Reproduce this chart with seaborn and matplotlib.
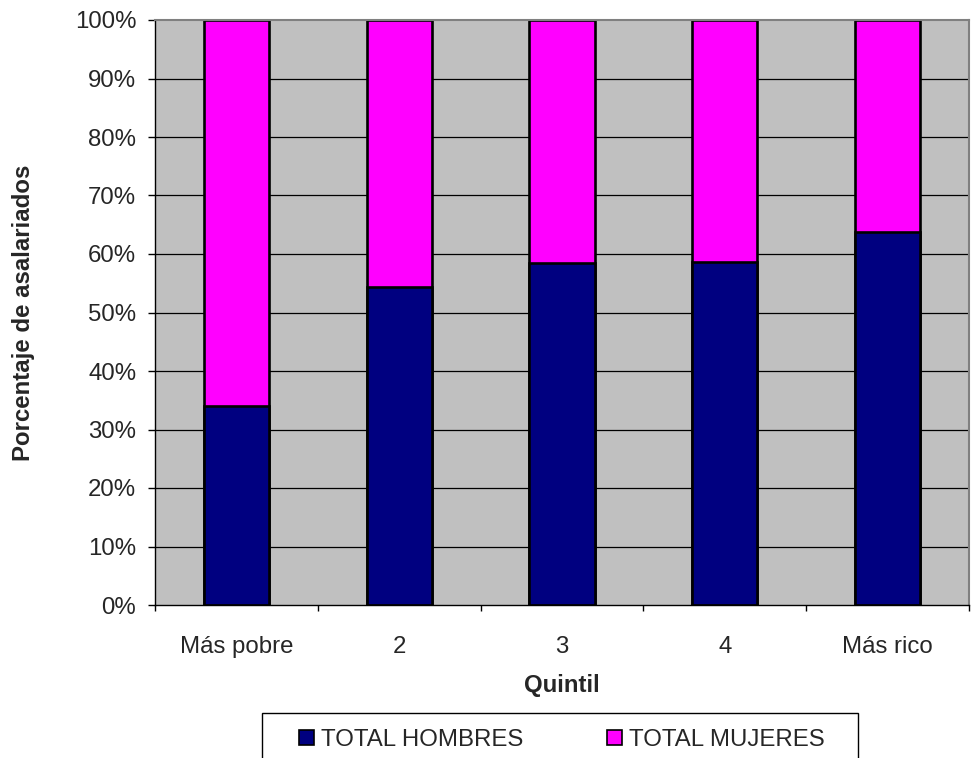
import matplotlib
matplotlib.use("Agg")
import matplotlib.pyplot as plt
from matplotlib.patches import Patch, Rectangle
from matplotlib.ticker import FixedLocator, PercentFormatter
import seaborn as sns
import pandas as pd

# Share of wage earners by sex within each income quintile (%)
quintiles = ["Más pobre", "2", "3", "4", "Más rico"]
total_hombres = [34.0, 54.4, 58.5, 58.6, 63.7]
total_mujeres = [66.0, 45.6, 41.5, 41.4, 36.3]

df = pd.DataFrame({
    "Quintil": quintiles,
    "TOTAL HOMBRES": total_hombres,
    "TOTAL MUJERES": total_mujeres,
})
df["tope"] = df["TOTAL HOMBRES"] + df["TOTAL MUJERES"]

NAVY = "#000080"
MAGENTA = "#FF00FF"
PLOT_BG = "#C0C0C0"
BORDER = "#808080"

sns.set_style("white")
plt.rcParams["font.family"] = ["Liberation Sans", "DejaVu Sans"]
FS = 17.3

W, H = 971, 758
fig = plt.figure(figsize=(W / 100, H / 100), dpi=100)
ax = fig.add_axes([155 / W, 1 - 605 / H, (969 - 155) / W, 585 / H])
ax.set_facecolor(PLOT_BG)

# stacked bars: women segment on top of men segment
bar_kw = dict(width=0.4, edgecolor="black", linewidth=1.9, saturation=1, ax=ax)
sns.barplot(data=df, x="Quintil", y="tope", color=MAGENTA, **bar_kw)
sns.barplot(data=df, x="Quintil", y="TOTAL HOMBRES", color=NAVY, **bar_kw)

ax.set_ylim(0, 100)
ax.set_xlim(-0.5, len(quintiles) - 0.5)
ax.yaxis.set_major_locator(FixedLocator(list(range(0, 101, 10))))
ax.yaxis.set_major_formatter(PercentFormatter(decimals=0))

# gridlines
ax.set_axisbelow(True)
ax.yaxis.grid(True, color="black", linewidth=0.9)
ax.xaxis.grid(False)
for gl, v in zip(ax.yaxis.get_gridlines(), ax.get_yticks()):
    if v in (0, 100):
        gl.set_visible(False)

# spines
for side in ("top", "right"):
    ax.spines[side].set_color(BORDER)
    ax.spines[side].set_linewidth(1.5)
for side in ("left", "bottom"):
    ax.spines[side].set_color("black")
    ax.spines[side].set_linewidth(1.0)

# ticks
ax.tick_params(axis="y", which="major", direction="out", length=5, width=1,
               color="black", labelsize=FS, pad=8.5, left=True)
ax.set_xticks([i - 0.5 for i in range(len(quintiles) + 1)], minor=True)
ax.tick_params(axis="x", which="minor", direction="out", length=4, width=1,
               color="black", bottom=True)
ax.tick_params(axis="x", which="major", length=0, labelsize=FS, pad=22)

ax.set_xlabel("Quintil", fontsize=FS, fontweight="bold")
ax.set_ylabel("Porcentaje de asalariados", fontsize=FS, fontweight="bold")
ax.xaxis.set_label_coords(0.5, -0.118)
ax.yaxis.set_label_coords(-0.148, 0.5)

# legend box below the chart
frame = Rectangle((262 / W, -0.05), (858 - 262) / W, 0.05 + 1 - 713 / H,
                  transform=fig.transFigure, facecolor="white",
                  edgecolor="black", linewidth=1.0, clip_on=False, zorder=1)
fig.patches.append(frame)
handles = [
    Patch(facecolor=NAVY, edgecolor="black", linewidth=1.2, label="TOTAL HOMBRES"),
    Patch(facecolor=MAGENTA, edgecolor="black", linewidth=1.2, label="TOTAL MUJERES"),
]
leg = fig.legend(handles=handles, loc="center", ncol=2,
                 bbox_to_anchor=(562 / W, 1 - 740 / H), frameon=False,
                 fontsize=FS, handlelength=0.6, handleheight=0.6,
                 handletextpad=0.3, columnspacing=3.5)
leg.set_zorder(2)

fig.savefig("out.png", dpi=100)
